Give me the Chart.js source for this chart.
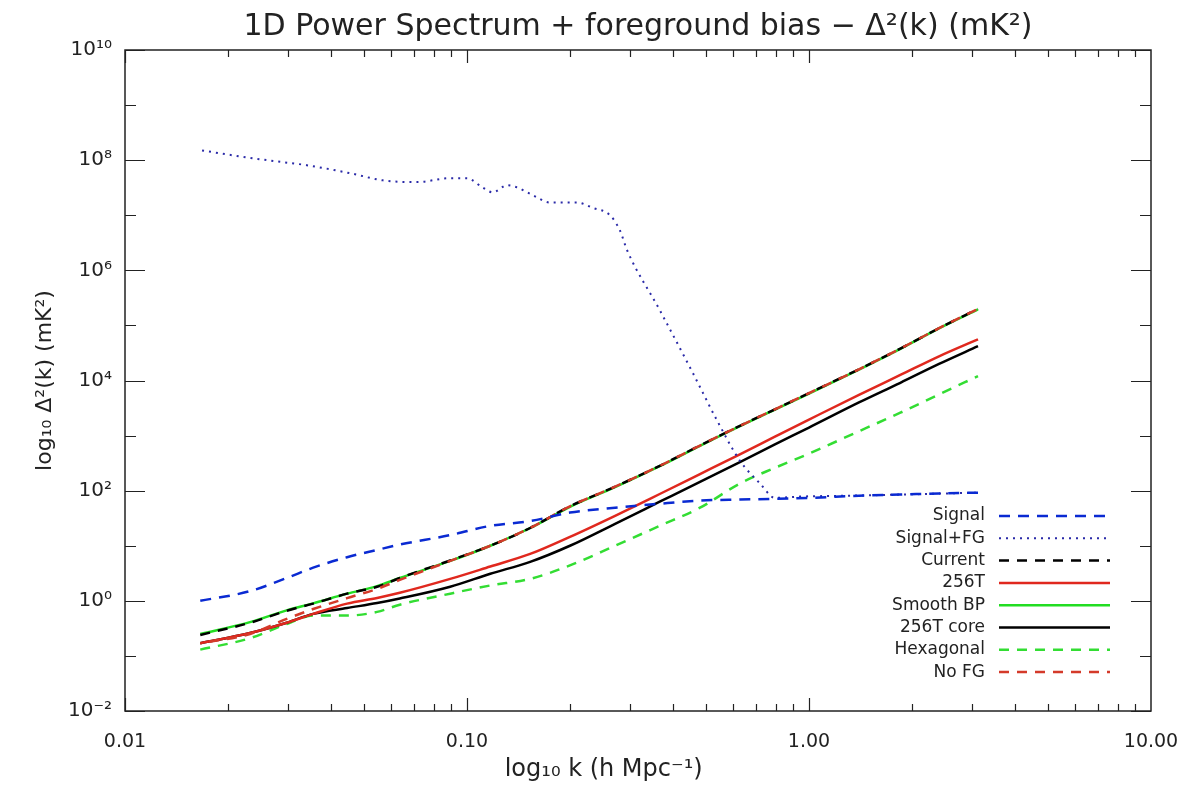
<!DOCTYPE html>
<html lang="en">
<head>
<meta charset="UTF-8" />
<title>1D Power Spectrum + foreground bias</title>
<script src="https://cdn.jsdelivr.net/npm/chart.js"></script>
<style>
  body { margin: 0; background: #ffffff; }
</style>
</head>
<body>
<canvas id="spectrum" width="1195" height="788"></canvas>
<script>
// k values (h/Mpc) shared by the smooth curves
const kGrid = [0.0166, 0.0232, 0.0297, 0.0355, 0.0446, 0.0546, 0.0636, 0.0893, 0.117, 0.153, 0.2,
               0.271, 0.366, 0.48, 0.628, 0.795, 1.0, 1.4, 1.85, 2.4, 3.12];

const signal    = [1.0, 1.5, 2.6, 4.0, 6.2, 8.4, 10.5, 15.6, 23, 28, 40, 49, 58, 66, 69, 71, 74, 81, 85, 89, 92];
const current   = [0.24, 0.40, 0.66, 0.89, 1.35, 1.8, 2.6, 5.4, 10, 21, 52, 118, 282, 660, 1500, 3000, 5900, 16000, 38000, 89000, 200000];
const t256      = [0.17, 0.26, 0.40, 0.58, 0.89, 1.13, 1.4, 2.5, 4.2, 7.1, 14.5, 35, 87, 200, 457, 955, 1950, 5500, 12600, 27500, 56000];
const smoothBP  = [0.25, 0.41, 0.67, 0.9, 1.35, 1.85, 2.6, 5.3, 10, 21, 51, 116, 278, 650, 1480, 2950, 5800, 15800, 37500, 88000, 195000];
const t256core  = [0.17, 0.26, 0.40, 0.58, 0.74, 0.91, 1.1, 1.8, 3.1, 5.1, 10, 25, 63, 145, 330, 690, 1400, 4000, 9100, 20000, 42000];
const hexagonal = [0.13, 0.21, 0.38, 0.54, 0.54, 0.63, 0.85, 1.35, 1.9, 2.5, 4.4, 10, 23, 49, 135, 260, 470, 1200, 2600, 5600, 12000];
const noFG      = [0.17, 0.25, 0.47, 0.71, 1.12, 1.65, 2.4, 5.3, 10, 21, 52, 118, 282, 660, 1500, 3000, 5900, 16000, 38000, 89000, 200000];

// Signal + foreground has its own sampling (wiggly curve)
const kFG = [0.0168, 0.0232, 0.029, 0.034, 0.0455, 0.0568, 0.0714, 0.0892, 0.1, 0.111, 0.119, 0.131, 0.14,
             0.156, 0.175, 0.196, 0.21, 0.234, 0.262, 0.28, 0.294, 0.366, 0.458, 0.538, 0.628, 0.719,
             0.795, 0.94, 1.32, 1.85, 3.12];
const signalFG = [1.5e8, 1.1e8, 9.2e7, 8.1e7, 5.8e7, 4.3e7, 4.0e7, 4.7e7, 4.7e7, 3.2e7, 2.6e7, 3.5e7, 3.2e7,
                  2.3e7, 1.7e7, 1.7e7, 1.7e7, 1.35e7, 1.0e7, 5.3e6, 2.3e6, 1.9e5, 1.35e4, 1.9e3, 350, 135,
                  74, 78, 81, 85, 92];

const xTickValues = [0.01, 0.1, 1, 10];
const xTickLabels = ["0.01", "0.10", "1.00", "10.00"];
const yTickValues = [1e-2, 1e0, 1e2, 1e4, 1e6, 1e8, 1e10];
const yTickLabels = ["10\u207B\u00B2", "10\u2070", "10\u00B2", "10\u2074", "10\u2076", "10\u2078", "10\u00B9\u2070"];

const titleText = "1D Power Spectrum + foreground bias \u2212 \u0394\u00B2(k) (mK\u00B2)";
const ink = "#222222";
const font = "'DejaVu Sans', sans-serif";

function pts(xs, ys) {
  return xs.map((x, i) => ({ x: x, y: ys[i] }));
}

// title centred over the plot box, like the IDL original
const plotTitle = {
  id: "plotTitle",
  afterDraw(chart) {
    const { ctx, chartArea: a } = chart;
    ctx.save();
    ctx.font = "30px " + font;
    ctx.fillStyle = ink;
    ctx.textAlign = "center";
    ctx.textBaseline = "middle";
    ctx.fillText(titleText, (a.left + a.right) / 2, 27);
    ctx.restore();
  }
};

// IDL style frame with inward ticks on all four sides
const frameTicks = {
  id: "frameTicks",
  afterDraw(chart) {
    const { ctx, chartArea: a, scales } = chart;
    ctx.save();
    ctx.strokeStyle = ink;
    ctx.lineWidth = 1.5;
    ctx.strokeRect(a.left, a.top, a.right - a.left, a.bottom - a.top);
    ctx.lineWidth = 1.2;
    ctx.beginPath();
    for (let e = -2; e <= 0; e++) {
      for (let m = 1; m <= 9; m++) {
        const px = Math.round(scales.x.getPixelForValue(m * Math.pow(10, e))) + 0.5;
        const len = m === 1 ? 13 : 7;
        ctx.moveTo(px, a.bottom); ctx.lineTo(px, a.bottom - len);
        ctx.moveTo(px, a.top); ctx.lineTo(px, a.top + len);
      }
    }
    for (let p = -2; p <= 10; p++) {
      const py = Math.round(scales.y.getPixelForValue(Math.pow(10, p))) + 0.5;
      const len = p % 2 === 0 ? 20 : 11;
      ctx.moveTo(a.left, py); ctx.lineTo(a.left + len, py);
      ctx.moveTo(a.right, py); ctx.lineTo(a.right - len, py);
    }
    ctx.stroke();
    ctx.restore();
  }
};

// legend inside the plot, text on the left, line sample on the right
const insideLegend = {
  id: "insideLegend",
  afterDraw(chart) {
    const { ctx, chartArea: a } = chart;
    ctx.save();
    ctx.font = "17px " + font;
    ctx.textAlign = "right";
    ctx.textBaseline = "middle";
    chart.data.datasets.forEach((ds, i) => {
      const y = a.bottom - 195 + i * 22.3;
      ctx.fillStyle = ink;
      ctx.fillText(ds.label, a.right - 166, y);
      ctx.strokeStyle = ds.borderColor;
      ctx.lineWidth = ds.borderWidth;
      ctx.setLineDash(ds.borderDash || []);
      ctx.beginPath();
      ctx.moveTo(a.right - 152, y);
      ctx.lineTo(a.right - 41, y);
      ctx.stroke();
    });
    ctx.restore();
  }
};

const common = { pointRadius: 0, borderWidth: 2.5, fill: false, cubicInterpolationMode: "monotone" };

new Chart(document.getElementById("spectrum"), {
  type: "line",
  data: {
    datasets: [
      { ...common, label: "Signal", data: pts(kGrid, signal), borderColor: "#0a2ad2", borderDash: [11, 8], order: 1 },
      { ...common, label: "Signal+FG", data: pts(kFG, signalFG), borderColor: "#2a2aa8", borderWidth: 2, borderDash: [2, 5], order: 1 },
      { ...common, label: "Current", data: pts(kGrid, current), borderColor: "#000000", borderDash: [10, 8], order: 3 },
      { ...common, label: "256T", data: pts(kGrid, t256), borderColor: "#e0281e", order: 2 },
      { ...common, label: "Smooth BP", data: pts(kGrid, smoothBP), borderColor: "#22dd22", order: 4 },
      { ...common, label: "256T core", data: pts(kGrid, t256core), borderColor: "#000000", order: 2 },
      { ...common, label: "Hexagonal", data: pts(kGrid, hexagonal), borderColor: "#33dd33", borderDash: [10, 8], order: 2 },
      { ...common, label: "No FG", data: pts(kGrid, noFG), borderColor: "#d43a2a", borderDash: [10, 8], borderDashOffset: 9, order: 1 }
    ]
  },
  options: {
    responsive: false,
    animation: false,
    devicePixelRatio: 1,
    layout: { padding: { left: 0, right: 44, top: 50, bottom: 0 } },
    plugins: {
      legend: { display: false },
      tooltip: { enabled: false },
      title: { display: false }
    },
    scales: {
      x: {
        type: "logarithmic",
        min: 0.01,
        max: 10,
        grid: { display: false, drawTicks: false },
        border: { display: false },
        afterBuildTicks: (scale) => { scale.ticks = xTickValues.map(v => ({ value: v })); },
        afterFit: (scale) => {
          scale.height = 77;
          scale.paddingLeft = 0;
          scale.paddingRight = 0;
        },
        ticks: {
          color: ink,
          font: { family: font, size: 19 },
          padding: 20,
          maxRotation: 0,
          autoSkip: false,
          callback: (value, index) => xTickLabels[index]
        },
        title: {
          display: true,
          text: "log\u2081\u2080 k (h Mpc\u207B\u00B9)         ",
          color: ink,
          font: { family: font, size: 24 },
          padding: { top: 4, bottom: 4 }
        }
      },
      y: {
        type: "logarithmic",
        min: 1e-2,
        max: 1e10,
        grid: { display: false, drawTicks: false },
        border: { display: false },
        afterBuildTicks: (scale) => { scale.ticks = yTickValues.map(v => ({ value: v })); },
        afterFit: (scale) => { scale.width = 125; },
        ticks: {
          color: ink,
          font: { family: font, size: 20 },
          padding: 13,
          autoSkip: false,
          callback: (value, index) => yTickLabels[index]
        },
        title: {
          display: true,
          text: "log\u2081\u2080 \u0394\u00B2(k) (mK\u00B2)",
          color: ink,
          font: { family: font, size: 22 },
          padding: { top: 32, bottom: 0 }
        }
      }
    }
  },
  plugins: [plotTitle, frameTicks, insideLegend]
});
</script>
</body>
</html>
